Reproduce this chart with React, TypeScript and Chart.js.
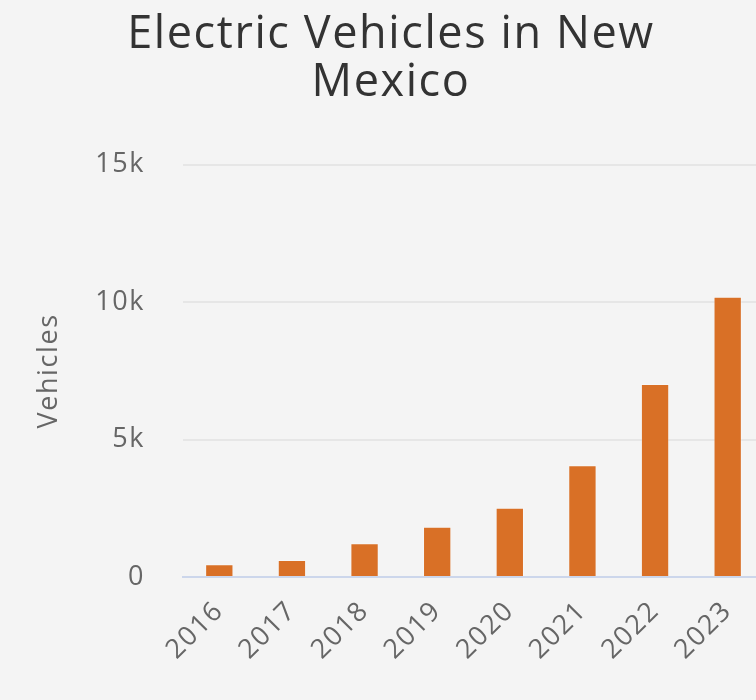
import React, { useEffect, useRef } from "react";
import { Chart, registerables } from "chart.js";

Chart.register(...registerables);

const TITLE_LINES = ["Electric Vehicles in New", "Mexico"];
const YEARS = ["2016", "2017", "2018", "2019", "2020", "2021", "2022", "2023"];
const VEHICLES = [462, 619, 1226, 1832, 2524, 4067, 7020, 10200];
const Y_TICKS = [0, 5000, 10000, 15000];
const Y_TITLE = "Vehicles";

const FONT = "'Open Sans', 'Noto Sans', sans-serif";
const SPACING = "1.6px";

const spacingPlugin = {
  id: "letterSpacing",
  beforeUpdate(chart: any) {
    (chart.ctx as any).letterSpacing = SPACING;
  },
  beforeLayout(chart: any) {
    (chart.ctx as any).letterSpacing = SPACING;
  },
  beforeDraw(chart: any) {
    (chart.ctx as any).letterSpacing = SPACING;
  },
};

export default function App() {
  const canvasRef = useRef<HTMLCanvasElement | null>(null);

  useEffect(() => {
    document.body.style.margin = "0";
    document.body.style.overflow = "hidden";
    document.body.style.background = "#f4f4f4";
    let chart: Chart | null = null;
    let cancelled = false;
    const build = () => {
      if (cancelled || !canvasRef.current) return;
      chart = new Chart(canvasRef.current, {
        type: "bar",
        plugins: [spacingPlugin],
        data: {
          labels: YEARS,
          datasets: [
            {
              label: Y_TITLE,
              data: VEHICLES,
              backgroundColor: "#d97026",
              borderColor: "rgba(255,255,255,0.3)",
              borderWidth: 1,
              barPercentage: 0.39,
              categoryPercentage: 1,
            },
          ],
        },
        options: {
          animation: false,
          responsive: true,
          maintainAspectRatio: false,
          layout: { padding: { left: 18, right: 8, top: 0, bottom: 0 } },
          plugins: {
            legend: { display: false },
            tooltip: { enabled: false },
            title: {
              display: true,
              text: TITLE_LINES,
              color: "#333333",
              font: { family: FONT, size: 45, weight: "normal", lineHeight: 1.07 },
              padding: { top: 11, bottom: 57.5 },
            },
          },
          scales: {
            x: {
              grid: { display: false },
              border: { display: true, color: "#ccd6eb", width: 2 },
              ticks: {
                color: "#666666",
                font: { family: FONT, size: 27 },
                minRotation: 45,
                maxRotation: 45,
                autoSkip: false,
                padding: 10,
              },
              afterFit: (scale: any) => {
                scale.height = 123;
              },
            },
            y: {
              min: 0,
              max: 15000,
              afterBuildTicks: (scale: any) => {
                scale.ticks = Y_TICKS.map((v) => ({ value: v }));
              },
              grid: {
                color: (ctx: any) => (ctx.tick && ctx.tick.value === 0 ? "rgba(0,0,0,0)" : "#e6e6e6"),
                lineWidth: 2,
                drawTicks: false,
              },
              border: { display: false },
              ticks: {
                color: "#666666",
                font: { family: FONT, size: 27 },
                padding: 38,
                callback: (v: any) => (Number(v) === 0 ? "0" : Number(v) / 1000 + "k"),
              },
              title: {
                display: true,
                text: Y_TITLE,
                color: "#666666",
                font: { family: FONT, size: 27 },
                padding: { top: 15, bottom: 0 },
              },
              afterFit: (scale: any) => {
                scale.width = 165;
              },
            },
          },
        },
      });
    };
    const fonts = (document as any).fonts;
    if (fonts && fonts.load) {
      Promise.all([fonts.load("45px 'Open Sans'"), fonts.load("27px 'Open Sans'")])
        .catch(() => null)
        .then(build);
    } else {
      build();
    }
    return () => {
      cancelled = true;
      if (chart) chart.destroy();
    };
  }, []);

  return (
    <div
      style={{
        position: "fixed",
        left: 0,
        top: 0,
        width: 756,
        height: 700,
        overflow: "hidden",
        background: "#f4f4f4",
      }}
    >
      <div style={{ position: "relative", width: 772, height: 700 }}>
        <canvas ref={canvasRef} />
      </div>
    </div>
  );
}
